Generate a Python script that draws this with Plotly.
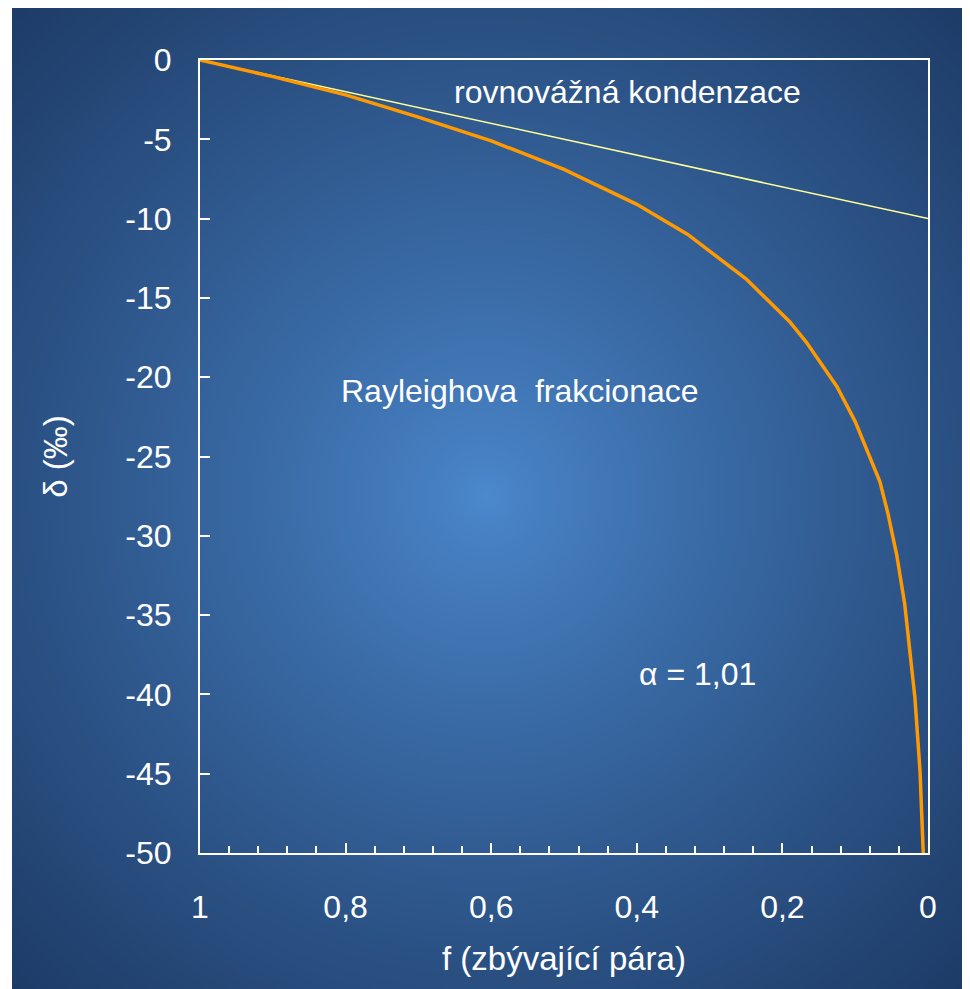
import base64
import struct
import zlib

import numpy as np
import plotly.graph_objs as go

# remaining vapour fraction f and delta (permil)
f_rayleigh = [1, 0.9, 0.8, 0.7, 0.6, 0.5, 0.4, 0.33, 0.25, 0.19, 0.167, 0.125,
              0.1, 0.08, 0.066, 0.055, 0.043, 0.032, 0.018, 0.011, 0.0065]
d_rayleigh = [0, -1.05, -2.2, -3.6, -5.1, -6.9, -9.1, -11.0, -13.8, -16.5, -17.8, -20.6,
              -22.8, -25.0, -26.6, -28.6, -31.2, -34.3, -40.2, -44.8, -50.0]

f_equil = [1, 0.9, 0.8, 0.7, 0.6, 0.5, 0.4, 0.3, 0.2, 0.1, 0]
d_equil = [0, -1, -2, -3, -4, -5, -6, -7, -8, -9, -10]

x_tickvals = [1, 0.8, 0.6, 0.4, 0.2, 0]
x_ticktext = ["1", "0,8", "0,6", "0,4", "0,2", "0"]
y_tickvals = [0, -5, -10, -15, -20, -25, -30, -35, -40, -45, -50]
y_ticktext = ["0", "-5", "-10", "-15", "-20", "-25", "-30", "-35", "-40", "-45", "-50"]

W, H = 970, 989
OFF = 8  # page body margin
L, T = 200 - OFF, 60 - OFF
PW, PH = 728, 793
R, B = W - L - PW, H - T - PH
FONT = "Liberation Sans, Arial, sans-serif"
EDGE = [29, 58, 101]


def gradient_png(w, h, scale, ox, oy):
    # radial blue background like the slide
    yy, xx = np.mgrid[0:h, 0:w].astype(float)
    cx, cy = (485 - ox) / scale, (495 - oy) / scale
    d = np.sqrt((xx - cx) ** 2 + (yy - cy) ** 2) / (700 / scale)
    d = np.clip(d, 0, 1) ** 0.85
    c0 = np.array([76, 137, 206])
    c1 = np.array(EDGE)
    rgb = (c0[None, None, :] * (1 - d[..., None]) + c1[None, None, :] * d[..., None]).astype(np.uint8)
    raw = b"".join(b"\x00" + rgb[i].tobytes() for i in range(h))

    def chunk(tag, data):
        c = struct.pack(">I", len(data)) + tag + data
        return c + struct.pack(">I", zlib.crc32(tag + data) & 0xffffffff)

    png = (b"\x89PNG\r\n\x1a\n"
           + chunk(b"IHDR", struct.pack(">IIBBBBB", w, h, 8, 2, 0, 0, 0))
           + chunk(b"IDAT", zlib.compress(raw, 9))
           + chunk(b"IEND", b""))
    return "data:image/png;base64," + base64.b64encode(png).decode()


# blue area in figure pixels (page pixels minus the body margin)
bx0, by0, bx1, by1 = 12 - OFF, 0, W, H
img = gradient_png((bx1 - bx0) // 2, (by1 - by0) // 2, 2, bx0 + OFF, by0 + OFF)

fig = go.Figure()
fig.add_trace(go.Scatter(x=f_equil, y=d_equil, mode='lines',
                         line=dict(color='#ffff99', width=1.5), showlegend=False))
fig.add_trace(go.Scatter(x=f_rayleigh, y=d_rayleigh, mode='lines',
                         line=dict(color='#ff9900', width=3.5), showlegend=False,
                         cliponaxis=False))

fig.add_layout_image(dict(
    source=img, xref='paper', yref='paper',
    x=(bx0 - L) / PW, y=(H - B - by0) / PH,
    sizex=(bx1 - bx0) / PW, sizey=(by1 - by0) / PH,
    xanchor='left', yanchor='top', sizing='stretch', layer='below'))

# white strip on the left edge of the slide
fig.add_shape(type='rect', xref='paper', yref='paper', layer='below',
              x0=-L / PW, x1=(bx0 - L) / PW, y0=-B / PH, y1=(H - B) / PH,
              fillcolor='white', line_width=0)

txt = dict(color='white', size=32, family=FONT)
fig.add_annotation(x=0.413, y=-2.0, text="rovnovážná kondenzace", showarrow=False, font=txt)
fig.add_annotation(x=0.56, y=-20.9, text="Rayleighova  frakcionace", showarrow=False, font=txt)
fig.add_annotation(x=0.317, y=-38.7, text="α = 1,01", showarrow=False, font=txt)

fig.update_xaxes(range=[1, 0], tickvals=x_tickvals, ticktext=x_ticktext,
                 ticks='inside', ticklen=10, tickwidth=2, tickcolor='white',
                 minor=dict(dtick=0.04, tick0=0, ticks='inside', ticklen=7, tickwidth=1.5, tickcolor='white'),
                 showline=True, linecolor='white', linewidth=2, mirror=True,
                 showgrid=False, zeroline=False, ticklabelstandoff=25,
                 tickfont=dict(color='white', size=32, family=FONT),
                 title=dict(text="f (zbývající pára)", standoff=22,
                            font=dict(color='white', size=33, family=FONT)))
fig.update_yaxes(range=[-50, 0], tickvals=y_tickvals, ticktext=y_ticktext,
                 ticks='inside', ticklen=10, tickwidth=2, tickcolor='white',
                 showline=True, linecolor='white', linewidth=2, mirror=True,
                 showgrid=False, zeroline=False, ticklabelstandoff=20,
                 tickfont=dict(color='white', size=32, family=FONT),
                 title=dict(text="δ (‰)", standoff=48,
                            font=dict(color='white', size=33, family=FONT)))

fig.update_layout(width=W, height=H, margin=dict(l=L, r=R, t=T, b=B, autoexpand=False),
                  paper_bgcolor='rgb(%d,%d,%d)' % tuple(EDGE), plot_bgcolor='rgba(0,0,0,0)',
                  showlegend=False)

fig.write_html("out.html")
